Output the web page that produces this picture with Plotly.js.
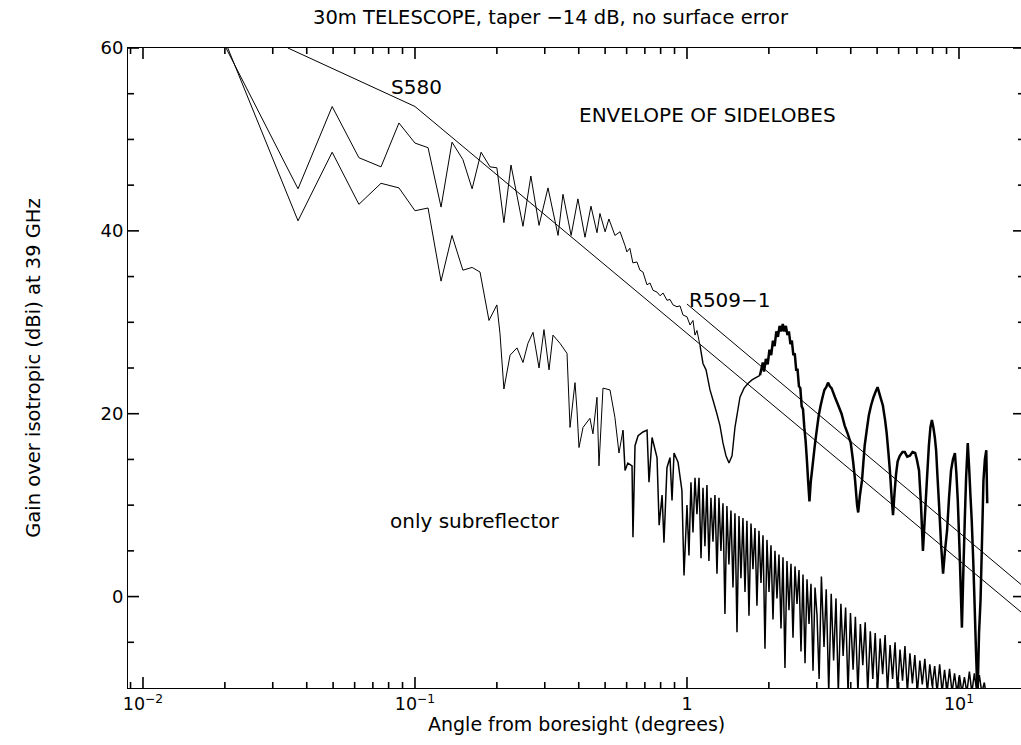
<!DOCTYPE html>
<html><head><meta charset="utf-8">
<script src="https://cdn.plot.ly/plotly-3.0.1.min.js"></script>
<style>html,body{margin:0;padding:0;overflow:hidden;background:#fff}#chart{width:1030px;height:745px}</style>
</head><body><div id="chart"></div>
<script>
// ---- Data (angle in degrees, gain in dBi) ----
const mainAngleA = [0.0202,0.03715,0.0496,0.0622,0.0750,0.0873,0.100,0.1117,0.1247,0.1368,0.150,0.1622,0.175,0.1887,0.200,0.2123,0.2254,0.2495,0.2667,0.2858,0.3083,0.3357,0.350,0.375,0.3972,0.4217,0.4436,0.4667,0.4786,0.500,0.5164,0.5433,0.5675,0.5916,0.6012,0.6166,0.6324,0.6546,0.6714,0.6887,0.7129,0.7311,0.750,0.7762,0.7962,0.8166,0.8443,0.866,0.8882,0.9189,0.9425,0.9667,1.0,1.026,1.052,1.070,1.088,1.116];
const mainGainA  = [60.0,44.6,53.6,48.0,47.0,51.8,49.6,49.1,42.6,49.7,47.8,44.6,48.6,47.0,46.9,40.9,47.2,40.5,46.0,40.6,44.7,39.5,44.0,39.5,43.5,39.3,42.7,39.8,41.9,39.9,41.3,39.5,39.9,38.4,37.7,38.1,36.5,36.6,35.7,35.5,34.1,34.3,33.5,33.3,32.9,33.2,32.4,32.5,31.9,31.7,31.8,30.8,30.6,29.7,30.2,28.6,29.1,27.5];

const mainAngleB = [1.116,1.145,1.175,1.215,1.246,1.288,1.322,1.356,1.391,1.427,1.464,1.501,1.566,1.621,1.675,1.734,1.778,1.855];
const mainGainB  = [27.5,25.5,24.8,22.6,21.5,20.0,18.7,16.8,15.4,14.6,15.4,18.5,21.8,22.8,23.3,23.7,23.9,24.2];

const mainAngleC = [1.855,1.90,1.92,1.95,1.98,2.01,2.04,2.07,2.10,2.13,2.16,2.19,2.22,2.25,2.28,2.31,2.34,2.37,2.40,2.43,2.46,2.49,2.52,2.55,2.58,2.61,2.64,2.67,2.70,2.73,2.76,2.79,2.82,2.85,2.90,2.95,3.00,3.05,3.10,3.15,3.20,3.25,3.30,3.35,3.40,3.50,3.60,3.70,3.80,3.90,4.00,4.08,4.15,4.22,4.26,4.32,4.40,4.50,4.58,4.66,4.75,4.85,4.95,5.02,5.12,5.25,5.35,5.42,5.50,5.57,5.65,5.72,5.80,5.87,5.95,6.06,6.20,6.32,6.45,6.60,6.75,6.90,7.00,7.13,7.25,7.37,7.50,7.62,7.75,7.85,7.95,8.05,8.15,8.24,8.34,8.43,8.60,8.74,8.88,9.04,9.20,9.35,9.50,9.66,9.78,9.90,10.05,10.25,10.38,10.50,10.62,10.77,10.90,11.02,11.14,11.28,11.40,11.55,11.70,11.85,12.00,12.15,12.30,12.45,12.60,12.65,12.70];
const mainGainC  = [24.2,25.6,24.6,26.0,25.4,27.0,26.4,28.0,27.4,29.0,28.4,29.6,29.0,29.8,29.0,29.6,28.6,29.0,27.6,28.0,26.4,26.6,24.8,24.8,23.0,22.8,20.8,20.5,18.5,17.0,14.9,12.5,10.4,12.5,14.5,16.5,18.2,19.8,20.9,21.8,22.6,22.9,23.4,23.0,22.8,21.8,20.9,20.0,18.7,17.8,16.8,14.8,12.7,10.0,9.2,11.0,12.7,16.5,18.2,19.8,20.9,21.8,22.5,22.9,22.0,20.9,19.3,17.9,15.8,13.8,11.0,8.9,11.5,13.4,14.8,15.4,15.8,15.8,15.3,15.4,15.8,15.7,15.0,13.8,10.0,5.0,9.0,12.7,16.5,18.5,19.3,18.5,17.4,16.0,13.0,10.5,5.5,2.5,5.0,7.2,11.0,13.8,15.0,15.7,13.5,10.5,5.0,-3.4,3.0,8.3,13.0,16.8,14.0,11.0,8.3,4.0,-0.4,-6.0,-11.0,-4.0,-0.4,6.0,12.7,15.0,16.0,13.0,10.2];

const subAngleA = [0.0205,0.03715,0.0496,0.0622,0.0750,0.0873,0.100,0.1117,0.1247,0.1368,0.150,0.1622,0.1734,0.1871,0.200,0.2053,0.2123,0.2236,0.2371,0.2495,0.2602,0.2716,0.2858,0.2980,0.3110,0.3216,0.3412,0.3622,0.3715,0.3875,0.3941,0.4008,0.4148,0.4397,0.4511,0.4667,0.4747,0.4911,0.5212,0.5433,0.5623,0.5816];
const subGainA  = [60.0,41.1,48.6,42.9,45.2,44.7,42.2,42.5,34.5,39.5,35.7,36.0,35.5,30.2,31.9,28.8,22.7,26.4,27.2,25.6,27.7,28.9,25.0,29.2,24.8,28.6,27.7,26.6,18.5,23.4,20.4,16.3,18.5,19.5,17.8,21.8,14.3,22.8,22.6,19.6,15.7,18.2];

const subAngleB = [0.5816,0.592,0.606,0.628,0.633,0.644,0.661,0.689,0.713,0.725,0.744,0.776,0.790,0.810,0.823,0.844,0.866,0.881,0.896,0.927,0.958,0.975,
  1.000,1.017,1.034,1.052,1.070,1.088,1.107,1.126,1.145,1.164,1.184,1.204,1.225,1.246,1.267,1.289,1.311,1.333,1.356,1.379,1.402,1.426,1.451,1.476,1.501,1.527,1.553,1.579,1.606,1.634,1.661,1.690,1.719,1.748,1.778,1.808,1.839,1.871,1.903,1.935,1.968,2.002,2.036,2.071,2.106,2.142,2.179,2.216,2.254,2.292,2.331,2.371,2.412,2.453,2.495,2.538,2.581,2.625,2.670,2.716,2.762,2.809,2.857,2.906,2.956,3.006,
  3.06,3.12,3.19,3.25,3.32,3.39,3.46,3.53,3.60,3.68,3.75,3.83,3.91,3.99,4.08,4.16,4.25,4.34,4.43,4.52,4.62,4.72,4.82,4.92,5.02,5.13,5.24,5.35,5.46,5.58,5.70,5.82,5.94,6.07,6.20,6.33,6.46,6.60,6.74,6.88,7.03,7.18,7.33,7.49,7.65,7.81,7.97,8.14,8.31,8.49,8.67,8.85,9.04,9.23,9.43,9.63,9.83,10.04,10.25,10.47,10.69,10.92,11.15,11.39,11.63,11.88,12.13,12.39,12.55];
const subGainB  = [18.2,13.8,14.6,14.3,6.5,16.5,17.6,18.0,18.2,12.5,17.4,15.2,7.8,11.1,5.9,14.1,15.2,10.5,15.7,14.7,11.6,2.3,
  10.0,4.5,12.5,7.0,13.0,9.0,13.0,4.2,11.9,5.5,12.2,3.9,10.8,6.0,11.1,2.5,10.8,5.0,10.2,-1.9,9.9,3.5,9.4,1.0,9.1,-3.9,8.8,2.0,8.6,0.5,8.3,-2.1,8.0,3.0,7.5,-1.0,7.2,1.5,6.7,-5.7,6.2,0.5,5.6,-2.5,5.0,-0.2,4.6,-3.5,4.3,-7.8,3.9,-1.5,3.6,-4.5,3.3,-0.8,2.9,-6.0,2.4,-7.3,1.9,-3.0,1.4,-8.1,1.0,-2.0,
  -9.0,2.2,-5.5,0.8,-10.5,0.3,-7.0,-0.2,-10.5,-0.8,-6.5,-1.2,-10.5,-1.8,-8.0,-2.2,-10.5,-3.0,-7.5,-2.8,-10.5,-3.8,-9.0,-4.0,-10.5,-4.6,-8.5,-4.2,-10.5,-5.3,-9.0,-5.0,-10.5,-5.8,-9.2,-5.4,-10.5,-6.2,-9.5,-6.4,-10.5,-7.0,-9.6,-6.8,-10.5,-7.4,-9.8,-7.6,-10.5,-7.4,-10.5,-8.0,-10.5,-7.9,-10.5,-8.4,-10.5,-8.6,-10.5,-8.8,-10.5,-8.2,-10.5,-8.4,-10.5,-8.6,-10.5,-9.4,-10.5];

const s580Angle = [0.0341, 0.100, 20.0];
const s580Gain  = [60.0, 53.6, -3.5];
const r509Angle = [1.0, 20.0];
const r509Gain  = [32.0, -0.5];

const xTickVals = [0.01, 0.1, 1, 10];
const xTickText = ['10<sup>\u22122</sup>', '10<sup>\u22121</sup>', '1', '10<sup>1</sup>'];
const xMinorVals = [0.009,0.02,0.03,0.04,0.05,0.06,0.07,0.08,0.09,0.2,0.3,0.4,0.5,0.6,0.7,0.8,0.9,2,3,4,5,6,7,8,9];
const yTickVals = [0, 20, 40, 60];
const yTickText = ['0', '20', '40', '60'];
const yMinorVals = [-5,5,10,15,25,30,35,45,50,55];

const FONT = 'DejaVu Sans';
const X_RANGE = [-2.0551, 1.2390];
const Y_RANGE = [-10, 60];
const PLOT_W = 896, PLOT_H = 640;
const MAJOR_LEN = 11, MINOR_LEN = 6;

function tr(x, y, w) {
  return {x: x, y: y, type: 'scatter', mode: 'lines',
    line: {color: '#000', width: w, simplify: false}, hoverinfo: 'skip', showlegend: false};
}

// Inside tick marks on all four sides, drawn as a line trace on the axes' own scales.
const xLo = Math.pow(10, X_RANGE[0]), xHi = Math.pow(10, X_RANGE[1]);
const decadesPerPx = (X_RANGE[1] - X_RANGE[0]) / PLOT_W;
const dbPerPx = (Y_RANGE[1] - Y_RANGE[0]) / PLOT_H;
const tickX = [], tickY = [];
function xTick(v, len) {
  tickX.push(v, v, null, v, v, null);
  tickY.push(Y_RANGE[0], Y_RANGE[0] + len * dbPerPx, null, Y_RANGE[1], Y_RANGE[1] - len * dbPerPx, null);
}
function yTick(v, len) {
  const f = Math.pow(10, len * decadesPerPx);
  tickX.push(xLo, xLo * f, null, xHi, xHi / f, null);
  tickY.push(v, v, null, v, v, null);
}
xTickVals.forEach(v => xTick(v, MAJOR_LEN));
xMinorVals.forEach(v => xTick(v, MINOR_LEN));
yTickVals.forEach(v => yTick(v, MAJOR_LEN));
yMinorVals.forEach(v => yTick(v, MINOR_LEN));

const traces = [
  tr(s580Angle, s580Gain, 1),
  tr(r509Angle, r509Gain, 1),
  tr(subAngleA, subGainA, 1),
  tr(subAngleB, subGainB, 1.5),
  tr(mainAngleA, mainGainA, 1),
  tr(mainAngleB, mainGainB, 1.4),
  tr(mainAngleC, mainGainC, 2.5),
  Object.assign(tr(tickX, tickY, 1.6), {connectgaps: false, cliponaxis: false})
];

const ann = (text, x, y, s) => ({text: text, x: x, y: y, xref: 'paper', yref: 'paper',
  showarrow: false, xanchor: 'center', yanchor: 'middle', font: {family: FONT, size: s, color: '#000'}});

const layout = {
  width: 1030, height: 745,
  margin: {l: 128, r: 6, t: 48, b: 57},
  paper_bgcolor: '#fff', plot_bgcolor: '#fff',
  font: {family: FONT, color: '#000'},
  title: {text: '30m TELESCOPE, taper \u221214 dB, no surface error', font: {family: FONT, size: 19.5, color: '#000'},
    x: 0.4715, xref: 'paper', xanchor: 'center', y: 0.977, yref: 'container', yanchor: 'middle'},
  xaxis: {type: 'log', range: X_RANGE, tickmode: 'array', tickvals: xTickVals, ticktext: xTickText,
    ticks: '', showline: true, linecolor: '#000', linewidth: 1, mirror: true, showgrid: false, zeroline: false,
    tickfont: {family: FONT, size: 17.5, color: '#000'}},
  yaxis: {range: Y_RANGE, tickmode: 'array', tickvals: yTickVals, ticktext: yTickText,
    ticks: '', showline: true, linecolor: '#000', linewidth: 1, mirror: true, showgrid: false, zeroline: false,
    tickfont: {family: FONT, size: 18, color: '#000'},
    title: {text: 'Gain over isotropic (dBi) at 39 GHz', font: {family: FONT, size: 19.5, color: '#000'}, standoff: 54}},
  annotations: [
    ann('Angle from boresight (degrees)', 0.5, -0.057, 19),
    ann('S580', 0.3225, 0.939, 20),
    ann('ENVELOPE OF SIDELOBES', 0.647, 0.895, 20),
    ann('R509\u22121', 0.672, 0.606, 20),
    ann('only subreflector', 0.387, 0.261, 20)
  ]
};
Plotly.newPlot('chart', traces, layout, {displayModeBar: false, staticPlot: true});
</script></body></html>
